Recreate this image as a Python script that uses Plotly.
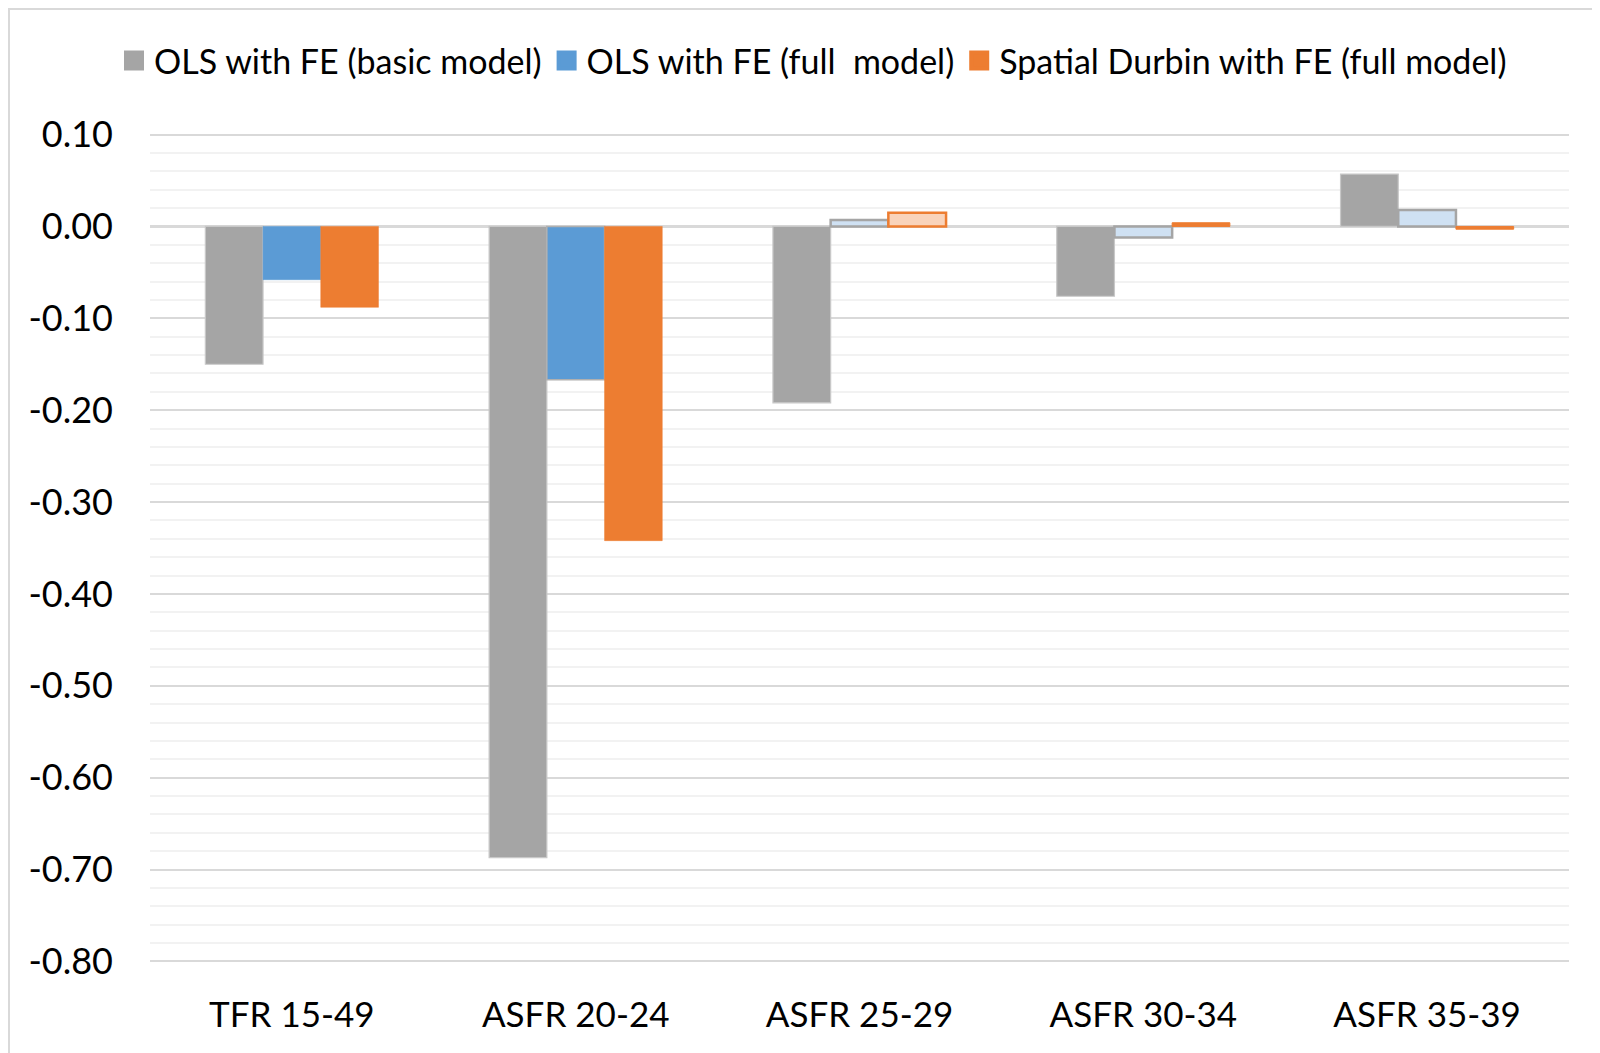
import plotly.graph_objects as go

categories = ["TFR 15-49", "ASFR 20-24", "ASFR 25-29", "ASFR 30-34", "ASFR 35-39"]
series_names = ["OLS with FE (basic model)", "OLS with FE (full  model)", "Spatial Durbin with FE (full model)"]
ols_basic = [-0.150, -0.687, -0.192, -0.076, 0.057]
ols_full = [-0.058, -0.167, 0.007, -0.012, 0.018]
durbin_full = [-0.088, -0.342, 0.015, 0.004, -0.003]
tick_vals = [0.10, 0.00, -0.10, -0.20, -0.30, -0.40, -0.50, -0.60, -0.70, -0.80]
tick_text = ["0.10", "0.00", "-0.10", "-0.20", "-0.30", "-0.40", "-0.50", "-0.60", "-0.70", "-0.80"]

GRAY = "#A5A5A5"
BLUE = "#5B9BD5"
ORANGE = "#ED7D31"
LIGHT_BLUE = "#CFE1F3"
LIGHT_ORANGE = "#F9D3BA"

FONT = "Lato"
FS = 35

# styles: small bars near zero are drawn light with outlines, as in the original
blue_fill = [BLUE, BLUE, LIGHT_BLUE, LIGHT_BLUE, LIGHT_BLUE]
blue_line = [BLUE, "#B0B0B0", GRAY, GRAY, GRAY]
blue_lw = [0.5, 1.5, 2.5, 2.5, 2.5]
orange_fill = [ORANGE, ORANGE, LIGHT_ORANGE, ORANGE, ORANGE]
orange_line = [ORANGE, ORANGE, ORANGE, ORANGE, ORANGE]
orange_lw = [0.5, 0.5, 2.5, 1, 1]

fig = go.Figure()
fig.add_trace(go.Bar(x=categories, y=ols_basic, name=series_names[0], showlegend=False,
                     marker=dict(color=GRAY, line=dict(color="#C8C8C8", width=1.2))))
fig.add_trace(go.Bar(x=categories, y=ols_full, name=series_names[1], showlegend=False,
                     marker=dict(color=blue_fill, line=dict(color=blue_line, width=blue_lw))))
fig.add_trace(go.Bar(x=categories, y=durbin_full, name=series_names[2], showlegend=False,
                     marker=dict(color=orange_fill, line=dict(color=orange_line, width=orange_lw))))

# legend entries with larger square swatches
for name, col in zip(series_names, [GRAY, BLUE, ORANGE]):
    fig.add_trace(go.Scatter(x=[None], y=[None], mode="markers", name=name,
                             marker=dict(symbol="square", size=16, color=col,
                                         line=dict(color=col, width=4))))

# the page has an 8px body margin, so figure coords = page coords - 8
W_PLOT = 1419.0
H_PLOT = 830.0
L, T = 142, 125

fig.update_layout(
    width=1600, height=1053,
    margin=dict(l=L, r=1600 - L - int(W_PLOT), t=T, b=1053 - T - int(H_PLOT), autoexpand=False),
    paper_bgcolor="white", plot_bgcolor="white",
    barmode="group", bargap=0.39, bargroupgap=0.0,
    font=dict(family=FONT, size=FS, color="black"),
    legend=dict(orientation="h", xref="container", x=805 / 1600, xanchor="center",
                y=(T + H_PLOT - 53) / H_PLOT, yanchor="middle",
                font=dict(family=FONT, size=34, color="black"),
                itemwidth=30, tracegroupgap=0, bgcolor="rgba(0,0,0,0)"),
    xaxis=dict(showgrid=False, showline=False, ticks="", ticklabelstandoff=28,
               tickfont=dict(family=FONT, size=FS, color="black")),
    yaxis=dict(range=[-0.8017, 0.1017], tickvals=tick_vals, ticktext=tick_text,
               showgrid=True, gridcolor="#D9D9D9", gridwidth=2,
               zeroline=True, zerolinecolor="#D9D9D9", zerolinewidth=2.5,
               showline=False, ticks="", ticklabelstandoff=36,
               tickfont=dict(family=FONT, size=36, color="black"),
               minor=dict(dtick=0.02, showgrid=True, gridcolor="#F2F2F2", gridwidth=2)),
    shapes=[dict(type="rect", xref="paper", yref="paper",
                 x0=(1 - L) / W_PLOT, x1=(1610 - L) / W_PLOT,
                 y0=(T + H_PLOT - 1065) / H_PLOT, y1=(T + H_PLOT - 1) / H_PLOT,
                 line=dict(color="#D9D9D9", width=2), fillcolor="rgba(0,0,0,0)",
                 layer="below")],
)

fig.write_html("out.html")
